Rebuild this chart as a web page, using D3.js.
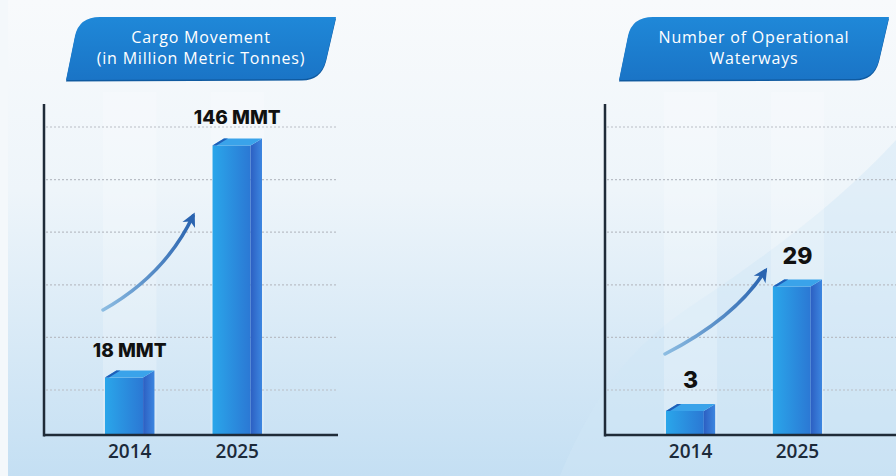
<!DOCTYPE html>
<html>
<head>
<meta charset="utf-8">
<script src="https://cdn.jsdelivr.net/npm/d3@7"></script>
<style>
  body { margin: 0; padding: 0; overflow: hidden; }
  svg { display: block; }
</style>
</head>
<body>
<div id="chart-area"></div>
<script>
// data
const years = ["2014", "2025"]
const cargoValues = [18, 146]
const cargoLabels = ["18 MMT", "146 MMT"]
const waterwayValues = [3, 29]
const waterwayLabels = ["3", "29"]
const cargoTitle = ["Cargo Movement", "(in Million Metric Tonnes)"]
const waterwayTitle = ["Number of Operational", "Waterways"]

const WIDTH = 896
const HEIGHT = 476
const BASE = 435
const AXIS_TOP = 104

const svg = d3.select("#chart-area").append("svg")
    .attr("width", WIDTH)
    .attr("height", HEIGHT)

const defs = svg.append("defs")

// background gradient
const bg = defs.append("linearGradient").attr("id", "bg")
    .attr("x1", 0).attr("y1", 0).attr("x2", 0).attr("y2", 1)
bg.append("stop").attr("offset", "0%").attr("stop-color", "#f8fafc")
bg.append("stop").attr("offset", "40%").attr("stop-color", "#eef5fa")
bg.append("stop").attr("offset", "100%").attr("stop-color", "#c4dff3")

const front = defs.append("linearGradient").attr("id", "front")
front.append("stop").attr("offset", "0%").attr("stop-color", "#2aa6ea")
front.append("stop").attr("offset", "100%").attr("stop-color", "#2b78d4")

const side = defs.append("linearGradient").attr("id", "side")
side.append("stop").attr("offset", "0%").attr("stop-color", "#2c5fc2")
side.append("stop").attr("offset", "100%").attr("stop-color", "#3c86e0")

const banner = defs.append("linearGradient").attr("id", "banner")
    .attr("x1", 0).attr("y1", 0).attr("x2", 0).attr("y2", 1)
banner.append("stop").attr("offset", "0%").attr("stop-color", "#1f88d8")
banner.append("stop").attr("offset", "100%").attr("stop-color", "#1a74c6")

const arrowGrad = defs.append("linearGradient").attr("id", "arrowGrad")
arrowGrad.append("stop").attr("offset", "0%").attr("stop-color", "#8dbde2")
arrowGrad.append("stop").attr("offset", "100%").attr("stop-color", "#2a64b0")

svg.append("rect")
    .attr("width", WIDTH).attr("height", HEIGHT)
    .attr("fill", "url(#bg)")

// soft swoosh on the right
svg.append("path")
    .attr("d", "M896,140 C850,190 790,240 700,300 C640,340 600,380 560,476 L896,476 Z")
    .attr("fill", "#d0e7f6")
    .attr("opacity", 0.45)

// thin white strip at the left edge
svg.append("rect")
    .attr("width", 8).attr("height", HEIGHT)
    .attr("fill", "#f4f8fb")

function drawPanel(opts) {
    const g = svg.append("g")

    const x = d3.scaleBand()
        .domain(years)
        .range([opts.barStart, opts.barEnd])
        .paddingInner(0.54)
        .paddingOuter(0)

    const y = d3.scaleLinear()
        .domain(opts.yDomain)
        .range([BASE, AXIS_TOP])

    const bw = x.bandwidth()
    const fw = bw * 0.77
    const dy = 7

    // faint columns behind bars
    g.selectAll(".col")
        .data(years)
        .join("rect")
        .attr("x", d => x(d) - 2)
        .attr("y", 92)
        .attr("width", bw + 4)
        .attr("height", BASE - 92)
        .attr("fill", "#ffffff")
        .attr("opacity", 0.22)

    // gridlines
    const grid = d3.scaleLinear().domain([0, 5]).range([390, 127])
    g.selectAll(".grid")
        .data(d3.range(6))
        .join("line")
        .attr("x1", opts.axisX + 2)
        .attr("x2", opts.gridEnd)
        .attr("y1", d => grid(d))
        .attr("y2", d => grid(d))
        .attr("stroke", "#b9bec6")
        .attr("stroke-width", 1.2)
        .attr("stroke-dasharray", "2,2")

    // arrow
    const a = opts.arrow
    g.append("path")
        .attr("d", `M${a[0]},${a[1]} Q${a[2]},${a[3]} ${a[4]},${a[5]}`)
        .attr("fill", "none")
        .attr("stroke", "url(#arrowGrad)")
        .attr("stroke-width", 3.5)
        .attr("stroke-linecap", "round")
    const ang = Math.atan2(a[5] - a[3], a[4] - a[2])
    const hl = 14
    const hw = 7
    const tip = [a[4] + Math.cos(ang) * 4, a[5] + Math.sin(ang) * 4]
    const bx = tip[0] - Math.cos(ang) * hl, by = tip[1] - Math.sin(ang) * hl
    g.append("path")
        .attr("d", `M${tip[0]},${tip[1]} L${bx - Math.sin(ang) * hw},${by + Math.cos(ang) * hw} L${bx + Math.cos(ang) * 4},${by + Math.sin(ang) * 4} L${bx + Math.sin(ang) * hw},${by - Math.cos(ang) * hw} Z`)
        .attr("fill", "#2a64b0")

    const bars = g.selectAll(".bar")
        .data(opts.values)
        .join("g")
        .attr("class", "bar")

    // front face
    bars.append("rect")
        .attr("x", (d, i) => x(years[i]))
        .attr("y", d => y(d) + dy)
        .attr("width", fw)
        .attr("height", d => BASE - y(d) - dy)
        .attr("fill", "url(#front)")

    // side face
    bars.append("path")
        .attr("d", (d, i) => {
            const x0 = x(years[i])
            const t = y(d)
            return `M${x0 + fw},${t + dy} L${x0 + bw},${t} L${x0 + bw},${BASE} L${x0 + fw},${BASE} Z`
        })
        .attr("fill", "url(#side)")

    // top cap
    bars.append("path")
        .attr("d", (d, i) => {
            const x0 = x(years[i])
            const t = y(d)
            return `M${x0},${t + dy} L${x0 + bw - fw},${t} L${x0 + bw},${t} L${x0 + fw},${t + dy} Z`
        })
        .attr("fill", "#3aa3ea")
    bars.append("path")
        .attr("d", (d, i) => {
            const x0 = x(years[i])
            const t = y(d)
            return `M${x0},${t + dy} L${x0 + bw - fw},${t} L${x0 + bw - fw + 4},${t} L${x0 + 4},${t + dy} Z`
        })
        .attr("fill", "#1f5fb8")

    // value labels
    g.selectAll(".val")
        .data(opts.values)
        .join("text")
        .attr("x", (d, i) => x(years[i]) + bw / 2)
        .attr("y", d => y(d) - opts.labelGap)
        .attr("text-anchor", "middle")
        .attr("font-family", "Inter, 'Open Sans', sans-serif")
        .attr("font-weight", 800)
        .attr("font-size", opts.labelSize)
        .attr("fill", "#111111")
        .text((d, i) => opts.labels[i])

    // axis lines
    g.append("line")
        .attr("x1", opts.axisX).attr("x2", opts.axisX)
        .attr("y1", AXIS_TOP).attr("y2", BASE + 1.5)
        .attr("stroke", "#1f2b38").attr("stroke-width", 2.5)
    g.append("line")
        .attr("x1", opts.axisX).attr("x2", opts.gridEnd)
        .attr("y1", BASE).attr("y2", BASE)
        .attr("stroke", "#1f2b38").attr("stroke-width", 2.5)

    // year labels
    const xAxis = g.append("g")
        .attr("transform", `translate(0, ${BASE})`)
        .call(d3.axisBottom(x).tickSize(0).tickPadding(10))
    xAxis.select(".domain").remove()
    xAxis.selectAll("text")
        .attr("font-family", "'Open Sans', sans-serif")
        .attr("font-weight", 600)
        .attr("font-size", "19px")
        .attr("fill", "#1c2a3a")

    // title banner
    const b = opts.banner
    const shape = `M${b},80 L${b + 9},36 Q${b + 13},17 ${b + 34},17 L${b + 270},17 L${b + 260},60 Q${b + 255},79 ${b + 236},79 Z`
    g.append("path")
        .attr("d", shape)
        .attr("fill", "#0f5aa0")
        .attr("transform", "translate(0,1.5)")
    g.append("path")
        .attr("d", shape)
        .attr("fill", "url(#banner)")
    g.selectAll(".title")
        .data(opts.title)
        .join("text")
        .attr("x", b + 135)
        .attr("y", (d, i) => 43 + i * 21)
        .attr("text-anchor", "middle")
        .attr("font-family", "'Open Sans', sans-serif")
        .attr("font-weight", 500)
        .attr("font-size", "16px")
        .attr("letter-spacing", "0.8px")
        .attr("fill", "#ffffff")
        .text(d => d)
}

drawPanel({
    values: cargoValues,
    labels: cargoLabels,
    title: cargoTitle,
    barStart: 105, barEnd: 262,
    yDomain: [-17.5, 165],
    axisX: 44, gridEnd: 338,
    banner: 66,
    labelSize: "19px", labelGap: 14,
    arrow: [103, 310, 165, 275, 193, 216]
})

drawPanel({
    values: waterwayValues,
    labels: waterwayLabels,
    title: waterwayTitle,
    barStart: 666, barEnd: 822,
    yDomain: [-3.5, 65.7],
    axisX: 605, gridEnd: 896,
    banner: 619,
    labelSize: "23px", labelGap: 16,
    arrow: [665, 354, 735, 318, 765, 271]
})
</script>
</body>
</html>
